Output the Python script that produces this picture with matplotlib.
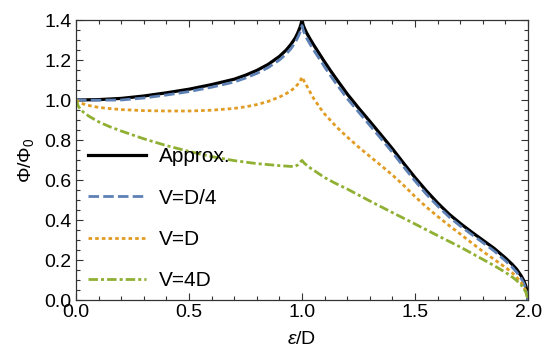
import matplotlib
matplotlib.use('Agg')
import matplotlib.pyplot as plt
from matplotlib.ticker import MultipleLocator

plt.rcParams['font.family'] = ['Liberation Sans', 'DejaVu Sans']
plt.rcParams['mathtext.fontset'] = 'custom'
plt.rcParams['mathtext.rm'] = 'Liberation Sans'
plt.rcParams['mathtext.it'] = 'Liberation Sans:italic'

# values
x_approx = [0, 0.1, 0.2, 0.3, 0.4, 0.5, 0.6, 0.7, 0.75, 0.8, 0.85, 0.9, 0.93, 0.95, 0.97, 0.98, 0.99, 0.995, 1.0,
            1.005, 1.01, 1.02, 1.035, 1.05, 1.08, 1.1, 1.13, 1.15, 1.2, 1.25, 1.3, 1.35, 1.4, 1.45, 1.5,
            1.55, 1.6, 1.65, 1.7, 1.75, 1.8, 1.85, 1.9, 1.93, 1.95, 1.97, 1.98, 1.99, 1.995, 2.0]
y_approx = [1.0, 1.002, 1.008, 1.02, 1.036, 1.054, 1.077, 1.104, 1.124, 1.148, 1.178, 1.218, 1.25, 1.277, 1.31, 1.333, 1.36, 1.378, 1.4,
            1.375, 1.36, 1.336, 1.306, 1.278, 1.225, 1.19, 1.14, 1.108, 1.03, 0.96, 0.893, 0.825, 0.756, 0.683, 0.612,
            0.546, 0.485, 0.43, 0.383, 0.34, 0.299, 0.258, 0.21, 0.178, 0.153, 0.12, 0.099, 0.07, 0.048, 0.0]

x_d4 = [0, 0.1, 0.2, 0.3, 0.4, 0.5, 0.6, 0.7, 0.75, 0.8, 0.85, 0.9, 0.93, 0.95, 0.97, 0.98, 0.99, 0.995, 1.0,
        1.005, 1.01, 1.02, 1.035, 1.05, 1.08, 1.1, 1.13, 1.15, 1.2, 1.25, 1.3, 1.35, 1.4, 1.45, 1.5,
        1.55, 1.6, 1.65, 1.7, 1.75, 1.8, 1.85, 1.9, 1.93, 1.95, 1.97, 1.98, 1.99, 1.995, 2.0]
y_d4 = [1.0, 0.999, 1.0, 1.01, 1.025, 1.042, 1.064, 1.09, 1.11, 1.133, 1.162, 1.2, 1.23, 1.255, 1.288, 1.31, 1.335, 1.352, 1.372,
        1.35, 1.335, 1.31, 1.28, 1.252, 1.2, 1.165, 1.115, 1.083, 1.007, 0.94, 0.873, 0.806, 0.738, 0.665, 0.595,
        0.529, 0.47, 0.416, 0.37, 0.328, 0.287, 0.245, 0.196, 0.164, 0.138, 0.107, 0.086, 0.058, 0.038, 0.0]

x_d = [0, 0.02, 0.05, 0.1, 0.15, 0.2, 0.3, 0.4, 0.5, 0.6, 0.7, 0.75, 0.8, 0.85, 0.9, 0.93, 0.95, 0.97, 0.99, 1.0,
       1.01, 1.02, 1.05, 1.08, 1.1, 1.15, 1.2, 1.25, 1.3, 1.35, 1.4, 1.45, 1.5, 1.55, 1.6, 1.65, 1.7,
       1.75, 1.8, 1.85, 1.9, 1.93, 1.95, 1.97, 1.99, 2.0]
y_d = [1.0, 0.985, 0.974, 0.963, 0.957, 0.952, 0.947, 0.945, 0.945, 0.949, 0.958, 0.966, 0.977, 0.993, 1.015, 1.032, 1.046, 1.064, 1.09, 1.115,
       1.092, 1.072, 1.01, 0.96, 0.93, 0.868, 0.815, 0.765, 0.718, 0.672, 0.625, 0.573, 0.517, 0.465, 0.418, 0.373, 0.33,
       0.286, 0.243, 0.203, 0.163, 0.136, 0.113, 0.086, 0.048, 0.0]

x_4d = [0, 0.01, 0.02, 0.04, 0.06, 0.1, 0.15, 0.2, 0.3, 0.4, 0.5, 0.6, 0.7, 0.8, 0.9, 0.95, 0.97, 0.98, 0.99, 1.0,
        1.01, 1.03, 1.05, 1.1, 1.15, 1.2, 1.3, 1.4, 1.5, 1.6, 1.7, 1.8, 1.85, 1.9, 1.93, 1.95, 1.97, 1.99, 2.0]
y_4d = [1.0, 0.97, 0.952, 0.932, 0.917, 0.891, 0.866, 0.845, 0.806, 0.772, 0.743, 0.717, 0.697, 0.682, 0.672, 0.668, 0.668, 0.675, 0.688, 0.698,
        0.684, 0.665, 0.65, 0.612, 0.582, 0.555, 0.495, 0.437, 0.38, 0.322, 0.265, 0.203, 0.172, 0.138, 0.115, 0.097, 0.075, 0.04, 0.0]

fig = plt.figure(figsize=(5.43, 3.54), dpi=100)
ax = fig.add_axes([0.14, 0.1525, 0.8325, 0.791])

lw = 2.0
ax.plot(x_approx, y_approx, color='black', lw=2.3, label='Approx.')
ax.plot(x_d4, y_d4, color='#5E81B5', lw=lw, dashes=(3.8, 1.5), label='V=D/4')
ax.plot(x_d, y_d, color='#E19C24', lw=lw, dashes=(1.3, 1.1), label='V=D')
ax.plot(x_4d, y_4d, color='#8FB032', lw=lw, dashes=(3.4, 1.1, 1.1, 1.1), label='V=4D')

ax.set_xlim(0, 2)
ax.set_ylim(0, 1.4)
ax.xaxis.set_major_locator(MultipleLocator(0.5))
ax.xaxis.set_minor_locator(MultipleLocator(0.1))
ax.yaxis.set_major_locator(MultipleLocator(0.2))
ax.yaxis.set_minor_locator(MultipleLocator(0.05))
ax.xaxis.set_major_formatter(plt.FormatStrFormatter('%.1f'))
ax.yaxis.set_major_formatter(plt.FormatStrFormatter('%.1f'))
ax.tick_params(which='both', direction='in', top=True, right=True, labelsize=14,
               color='#333333', width=0.8)
ax.tick_params(which='major', length=5, pad=3)
ax.tick_params(which='minor', length=3)
for s in ax.spines.values():
    s.set_color('#333333')
    s.set_linewidth(0.9)

ax.set_xlabel(r'$\varepsilon$/D', fontsize=14, labelpad=7)
ax.set_ylabel(r'Φ/Φ$_0$', fontsize=14, labelpad=6)

ax.legend(loc='center left', bbox_to_anchor=(0.0265, 0.29), frameon=False, fontsize=15,
          handlelength=2.8, handletextpad=0.6, labelspacing=1.07, borderpad=0, borderaxespad=0)

fig.savefig('out.png', dpi=100)
